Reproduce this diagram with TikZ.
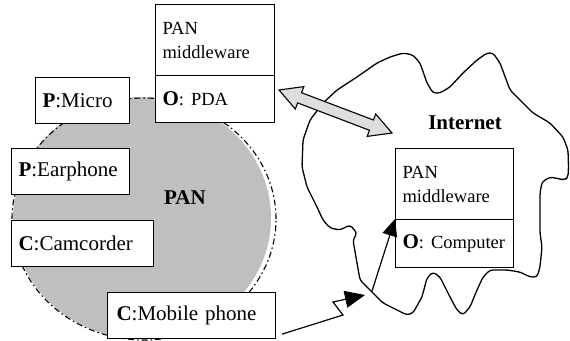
\documentclass[tikz,border=0pt]{standalone}
\usepackage{fontspec}
\setmainfont{Liberation Serif}
\usetikzlibrary{arrows.meta,calc}
\newcommand{\bigf}{\fontsize{21}{24}\selectfont}
\newcommand{\smallf}{\fontsize{18.5}{21}\selectfont}
\begin{document}
\begin{tikzpicture}[x=1pt,y=-1pt,
  box/.style={draw, line width=1.1pt, fill=white, anchor=north west,
    inner xsep=7pt, inner ysep=0pt, align=left, font=\bigf},
  conn/.style={line width=1.2pt},
  lbl/.style={font=\bigf\bfseries, inner sep=0pt}]
\useasboundingbox (0,0) rectangle (570,340);
% PAN area
\fill[black!25] (142,218) ellipse [x radius=129pt, y radius=121pt];
\draw[line width=1.1pt, dash pattern=on 6pt off 3pt on 1.5pt off 3pt]
  (144,219) ellipse [x radius=132pt, y radius=121pt];
\node[lbl] (pan) at (185,198) {PAN};
% Internet cloud
\draw[line width=1.3pt, line join=round, rounded corners=3pt]
 (323,103) -- (337,90) -- (357,77) -- (377,63) -- (390,57) -- (403,53) -- (413,55)
 -- (420,63) -- (427,83) -- (433,93) -- (440,93) -- (450,87) -- (463,73) -- (477,60)
 -- (487,53) -- (493,53) -- (500,63) -- (510,90) -- (520,100) -- (533,113) -- (550,123)
 -- (563,137) -- (568,150) -- (568.5,167) -- (568,177) -- (565,180) -- (550,177)
 -- (542,182) -- (540,193) -- (540,233) -- (542,247) -- (540,267) -- (537,277)
 -- (530,277) -- (520,272) -- (507,270) -- (490,270) -- (483,277) -- (477,290)
 -- (470,307) -- (463,315) -- (457,310) -- (450,297) -- (440,277) -- (433,272)
 -- (427,278) -- (422,297) -- (413,313) -- (407,315) -- (397,310) -- (383,303)
 -- (370,290) -- (360,280) -- (357,263) -- (353,240) -- (357,233) -- (350,225)
 -- (340,230) -- (330,228) -- (323,220) -- (317,207) -- (307,187) -- (302,167)
 -- (303,140) -- (310,120) -- cycle;
\node[lbl] (inet) at (465,123) {Internet};
% boxes
\node[box, minimum width=119pt, minimum height=71pt, text width=105pt] (mwA) at (155,4)
  {\smallf PAN\\\smallf middleware};
\node[box, minimum width=119pt, minimum height=47pt, text width=105pt] (pda) at (155,75)
  {\textbf{O}{\smallf: PDA}};
\node[box, minimum width=94pt, minimum height=46pt, text width=80pt] (micro) at (35,77)
  {\textbf{P}:Micro};
\node[box, minimum width=118pt, minimum height=46pt, text width=104pt] (ear) at (11,148)
  {\textbf{P}:Earphone};
\node[box, minimum width=142pt, minimum height=46pt, text width=128pt] (cam) at (11,220)
  {\textbf{C}:Camcorder};
\node[box, minimum width=168pt, minimum height=46pt, text width=154pt, inner xsep=9pt,
  text width=150pt] (mob) at (107,292)
  {\textbf{C}:Mobile phone};
\node[box, minimum width=118pt, minimum height=71pt, text width=104pt] (mwB) at (395,148)
  {\smallf PAN\\\smallf middleware};
\node[box, minimum width=118pt, minimum height=48pt, text width=104pt] (comp) at (395,219)
  {\textbf{O}{\smallf: Computer}};
% double arrow PDA <-> Internet
\filldraw[fill=black!13, line width=1.1pt, line join=miter]
  (279,90) -- (303.9,86.6) -- (301.5,92.7) -- (373.4,120.0) -- (375.7,114.0)
  -- (392,133) -- (367.2,136.4) -- (369.5,130.3) -- (297.6,102.9) -- (295.3,109.0)
  -- cycle;
% wireless link mobile phone -> computer
\coordinate (m0) at ($(mob.south east)+(6,-5)$);
\coordinate (m1) at (343,315);
\coordinate (m2) at (333,302);
\coordinate (m3) at (365,295);
\coordinate (m4) at (372,291);
\draw[conn, line join=miter, -{Triangle[length=20pt,width=17pt]}] (m0) -- (m1) -- (m2) -- (m3);
\draw[conn, -{Triangle[length=17pt,width=15pt]}] (m4) -- (comp.north west);
\end{tikzpicture}
\end{document}
